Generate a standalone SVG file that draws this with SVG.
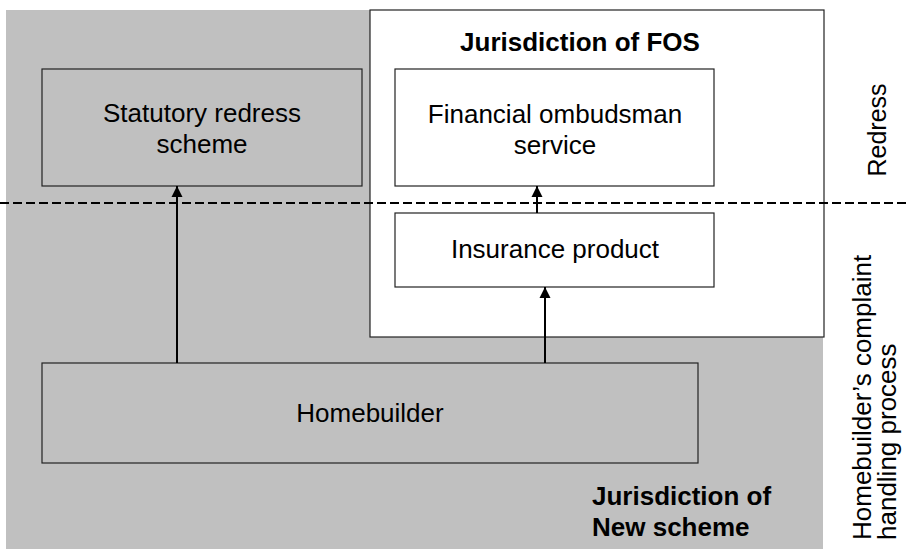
<svg xmlns="http://www.w3.org/2000/svg" width="910" height="559" viewBox="0 0 910 559">
<defs>
<style>
.box{stroke:#222;stroke-width:1.2}
.t{font-family:"Liberation Sans",Arial,sans-serif;font-size:26px;fill:#000}
.b{font-weight:bold}
.side{font-family:"Liberation Sans",Arial,sans-serif;font-size:25px;fill:#000}
.side2{font-family:"Liberation Sans",Arial,sans-serif;font-size:26px;fill:#000}
.conn{stroke:#000;stroke-width:2;fill:none;marker-end:url(#ah)}
</style>
<marker id="ah" viewBox="0 0 10 10" refX="10" refY="5" markerWidth="5.5" markerHeight="6.5" markerUnits="strokeWidth" orient="auto">
<path d="M0,0 L10,5 L0,10 z" fill="#000"/>
</marker>
</defs>
<rect width="910" height="559" fill="#fff"/>
<g id="new-scheme">
<rect x="6" y="10" width="817" height="539" fill="#c0c0c0"/>
<text class="t b" x="592" y="505">Jurisdiction of</text>
<text class="t b" x="592" y="536">New scheme</text>
</g>
<g id="fos">
<rect class="box" x="370" y="10" width="454" height="327" fill="#fff"/>
<text class="t b" x="580" y="51" text-anchor="middle">Jurisdiction of FOS</text>
</g>
<g id="statutory">
<rect class="box" x="42" y="69" width="320" height="117" fill="#c0c0c0"/>
<text class="t" x="202" y="122" text-anchor="middle">Statutory redress</text>
<text class="t" x="202" y="153" text-anchor="middle">scheme</text>
</g>
<g id="ombudsman">
<rect class="box" x="395" y="69" width="319" height="117" fill="#fff"/>
<text class="t" x="555" y="123" text-anchor="middle">Financial ombudsman</text>
<text class="t" x="555" y="154" text-anchor="middle">service</text>
</g>
<g id="insurance">
<rect class="box" x="395" y="213" width="319" height="74" fill="#fff"/>
<text class="t" x="555" y="258" text-anchor="middle">Insurance product</text>
</g>
<g id="homebuilder">
<rect class="box" x="42" y="363" width="656" height="100" fill="#c0c0c0"/>
<text class="t" x="370" y="422" text-anchor="middle">Homebuilder</text>
</g>
<g id="labels">
<text class="side" transform="translate(886,130) rotate(-90)" text-anchor="middle">Redress</text>
<text class="side2" transform="translate(871,540) rotate(-90)">Homebuilder’s complaint</text>
<text class="side2" transform="translate(896,540) rotate(-90)">handling process</text>
</g>
<g id="connectors">
<line x1="0" y1="203" x2="910" y2="203" stroke="#000" stroke-width="2" stroke-dasharray="9,4"/>
<line class="conn" x1="177" y1="363" x2="177" y2="186"/>
<line class="conn" x1="545" y1="363" x2="545" y2="287"/>
<line class="conn" x1="537" y1="213" x2="537" y2="186"/>
</g>
</svg>
